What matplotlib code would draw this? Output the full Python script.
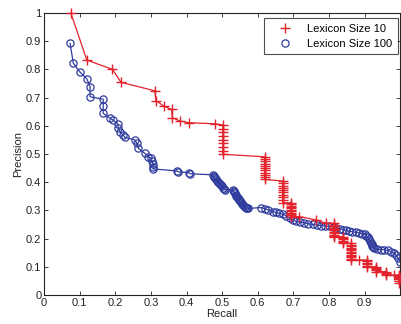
import matplotlib
matplotlib.use("Agg")
import matplotlib.pyplot as plt
from matplotlib.lines import Line2D

plt.rcParams['font.family'] = ['Liberation Sans', 'DejaVu Sans']

# Lexicon Size 10 (red)
recall_10 = [0.075, 0.120, 0.192, 0.216, 0.311, 0.314, 0.336, 0.358, 0.360, 0.381, 0.406, 0.479,
             0.502, 0.502, 0.502, 0.502, 0.502, 0.502, 0.502, 0.502, 0.502,
             0.619, 0.619, 0.619, 0.619, 0.619, 0.619, 0.619, 0.619, 0.619, 0.619, 0.619,
             0.670, 0.670, 0.670, 0.670, 0.670, 0.670, 0.670, 0.670, 0.670, 0.670,
             0.694, 0.694, 0.694, 0.694, 0.694, 0.694, 0.694, 0.694, 0.694, 0.694, 0.694,
             0.717, 0.764, 0.792,
             0.815, 0.815, 0.815, 0.815, 0.815, 0.815, 0.815, 0.815, 0.815, 0.815, 0.815,
             0.838, 0.838, 0.838, 0.838, 0.838, 0.838,
             0.862, 0.862, 0.862, 0.862, 0.862, 0.862, 0.862, 0.862, 0.862, 0.862, 0.862, 0.862, 0.862,
             0.885, 0.908, 0.908, 0.908, 0.908, 0.908, 0.908,
             0.932, 0.932, 0.932, 0.932, 0.932,
             0.960, 0.960, 0.960, 0.960, 0.983,
             0.997, 0.997, 0.997, 0.997, 0.997, 0.997, 0.997]
precision_10 = [1.000, 0.833, 0.800, 0.754, 0.724, 0.689, 0.670, 0.658, 0.629, 0.617, 0.611, 0.607,
                0.603, 0.590, 0.577, 0.564, 0.551, 0.538, 0.525, 0.512, 0.499,
                0.490, 0.482, 0.474, 0.466, 0.458, 0.450, 0.442, 0.434, 0.426, 0.418, 0.410,
                0.404, 0.396, 0.388, 0.380, 0.372, 0.364, 0.356, 0.348, 0.338, 0.327,
                0.327, 0.322, 0.317, 0.312, 0.307, 0.302, 0.297, 0.292, 0.287, 0.282, 0.278,
                0.278, 0.266, 0.254,
                0.254, 0.249, 0.244, 0.239, 0.234, 0.229, 0.224, 0.219, 0.214, 0.210, 0.207,
                0.207, 0.202, 0.197, 0.192, 0.187, 0.183,
                0.183, 0.178, 0.173, 0.168, 0.163, 0.158, 0.153, 0.148, 0.143, 0.138, 0.133, 0.128, 0.124,
                0.124, 0.124, 0.119, 0.114, 0.109, 0.104, 0.100,
                0.100, 0.096, 0.092, 0.088, 0.083,
                0.083, 0.079, 0.075, 0.071, 0.071,
                0.071, 0.067, 0.063, 0.059, 0.055, 0.049, 0.043]

# Lexicon Size 100 (blue)
recall_100 = [0.073, 0.082, 0.101, 0.120, 0.129, 0.129, 0.166, 0.166, 0.166, 0.185, 0.194,
              0.208, 0.208, 0.213, 0.222, 0.227, 0.255, 0.260, 0.265, 0.283, 0.292, 0.300,
              0.303, 0.306, 0.306, 0.306, 0.373, 0.376, 0.406, 0.410,
              0.474, 0.476, 0.478, 0.480, 0.483, 0.486, 0.489, 0.492, 0.495, 0.498, 0.500,
              0.502, 0.504, 0.507,
              0.530, 0.532, 0.534, 0.536, 0.538, 0.540, 0.542, 0.544, 0.546, 0.548, 0.550,
              0.553, 0.556, 0.559, 0.562, 0.565, 0.568, 0.570, 0.573,
              0.610, 0.620, 0.630, 0.642, 0.650, 0.660, 0.670, 0.680, 0.690, 0.700, 0.708,
              0.720, 0.730, 0.742, 0.754, 0.766, 0.778, 0.790, 0.801, 0.810, 0.820, 0.830,
              0.840, 0.848, 0.857, 0.866, 0.876, 0.885, 0.894, 0.900, 0.905, 0.909, 0.912,
              0.915, 0.918, 0.920, 0.922, 0.925, 0.927, 0.935, 0.945, 0.955, 0.965, 0.975,
              0.982, 0.988, 0.994, 1.000]
precision_100 = [0.892, 0.822, 0.790, 0.766, 0.739, 0.703, 0.694, 0.670, 0.644, 0.627, 0.620,
                 0.605, 0.591, 0.579, 0.567, 0.559, 0.550, 0.538, 0.520, 0.502, 0.490, 0.485,
                 0.475, 0.465, 0.455, 0.447, 0.440, 0.437, 0.434, 0.430,
                 0.426, 0.422, 0.418, 0.414, 0.410, 0.405, 0.401, 0.397, 0.393, 0.389, 0.385,
                 0.381, 0.377, 0.374,
                 0.372, 0.368, 0.364, 0.360, 0.356, 0.352, 0.348, 0.344, 0.340, 0.336, 0.332,
                 0.328, 0.324, 0.320, 0.316, 0.313, 0.310, 0.308, 0.307,
                 0.310, 0.306, 0.302, 0.296, 0.293, 0.290, 0.287, 0.281, 0.272, 0.265, 0.261,
                 0.258, 0.256, 0.253, 0.250, 0.248, 0.246, 0.245, 0.243, 0.242, 0.238, 0.235,
                 0.232, 0.229, 0.226, 0.224, 0.222, 0.220, 0.218, 0.215, 0.210, 0.204, 0.198,
                 0.192, 0.186, 0.180, 0.175, 0.170, 0.166, 0.162, 0.161, 0.160, 0.158, 0.154,
                 0.148, 0.142, 0.130, 0.118]

xticks = [0, 0.1, 0.2, 0.3, 0.4, 0.5, 0.6, 0.7, 0.8, 0.9]
yticks = [0, 0.1, 0.2, 0.3, 0.4, 0.5, 0.6, 0.7, 0.8, 0.9, 1]
tick_labels_x = ['0', '0.1', '0.2', '0.3', '0.4', '0.5', '0.6', '0.7', '0.8', '0.9']
tick_labels_y = ['0', '0.1', '0.2', '0.3', '0.4', '0.5', '0.6', '0.7', '0.8', '0.9', '1']

red = '#e3222b'
blue = '#2f3c9e'

fig = plt.figure(figsize=(4.01, 3.24), dpi=100)
ax = fig.add_axes([0.110, 0.0895, 0.888, 0.8705])

ax.plot(recall_100, precision_100, color=blue, lw=0.9, marker='o', ms=5.2,
        mfc='none', mec=blue, mew=0.9, clip_on=False, zorder=2)
ax.plot(recall_10, precision_10, color=red, lw=0.9, marker='+', ms=6.5,
        mec=red, mew=1.0, clip_on=False, zorder=3)

ax.set_xlim(0, 1)
ax.set_ylim(0, 1)
ax.set_xticks(xticks)
ax.set_xticklabels(tick_labels_x)
ax.set_yticks(yticks)
ax.set_yticklabels(tick_labels_y)
ax.tick_params(direction='in', top=True, right=True, length=3, width=0.6,
               labelsize=8, colors='#222222', pad=2)
for s in ax.spines.values():
    s.set_linewidth(0.8)
    s.set_color('#222222')

ax.set_xlabel('Recall', fontsize=8, labelpad=1, color='#222222')
ax.set_ylabel('Precision', fontsize=8, labelpad=2, color='#222222')

handles = [Line2D([], [], ls='none', marker='+', color=red, ms=6.5, mew=1.0),
           Line2D([], [], ls='none', marker='o', mfc='none', mec=blue, ms=5.2, mew=0.9)]
leg = ax.legend(handles, ['Lexicon Size 10', 'Lexicon Size 100'], loc='upper right',
                bbox_to_anchor=(0.994, 0.982), fontsize=8, frameon=True, fancybox=False,
                borderpad=0.5, handlelength=2.8, handletextpad=0.6, labelspacing=0.45,
                borderaxespad=0.0)
leg.get_frame().set_edgecolor('#222222')
leg.get_frame().set_linewidth(0.8)

fig.savefig('out.png', dpi=100)
